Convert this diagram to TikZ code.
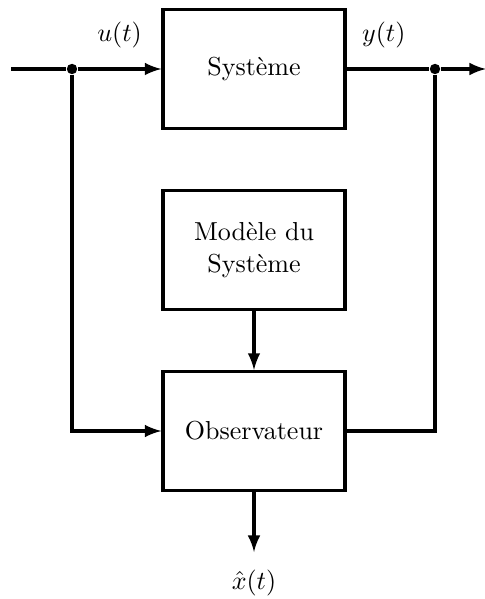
\documentclass[tikz,border=0pt]{standalone}
\usepackage{tikz}

\begin{document}
\begin{tikzpicture}[x=0.3846pt, y=-0.3846pt,
                    block/.style={rectangle, draw, line width=1.2pt, align=center,
                                  minimum width=70pt, minimum height=45.8pt},
                    signal/.style={line width=1.2pt},
                    junction/.style={circle, fill, inner sep=0pt, minimum size=4pt},
                    >=latex]
  \useasboundingbox (0, 0) rectangle (485, 599);

  % Blocks.
  \node at (254, 69) [block, name=Systeme] {Syst\`eme};
  \node at (254, 250) [block, name=Modele] {Mod\`ele du\\Syst\`eme};
  \node at (254, 431) [block, name=Observateur] {Observateur};

  % Junctions and free ends.
  \node at (72, 69) [junction, name=InputSplit] {};
  \node at (435, 69) [junction, name=OutputSplit] {};
  \coordinate (InputStart) at (11, 69);
  \coordinate (OutputEnd) at (486, 69);
  \coordinate (EstimateEnd) at (254, 552);

  % Signals.
  \draw [signal] (InputStart) -- (InputSplit);
  \draw [signal, ->] (InputSplit)
             to node [above, pos=0.5, yshift=4pt] {$u(t)$}
             (Systeme);
  \draw [signal] (Systeme)
             to node [above, pos=0.45, yshift=4pt] {$y(t)$}
             (OutputSplit);
  \draw [signal, ->] (OutputSplit) -- (OutputEnd);
  \draw [signal, ->] (InputSplit) |- (Observateur);
  \draw [signal] (OutputSplit) |- (Observateur);
  \draw [signal, ->] (Modele) -- (Observateur);
  \draw [signal, ->] (Observateur)
             to node [below, pos=1, yshift=-3pt] {$\hat{x}(t)$}
             (EstimateEnd);
\end{tikzpicture}
\end{document}
